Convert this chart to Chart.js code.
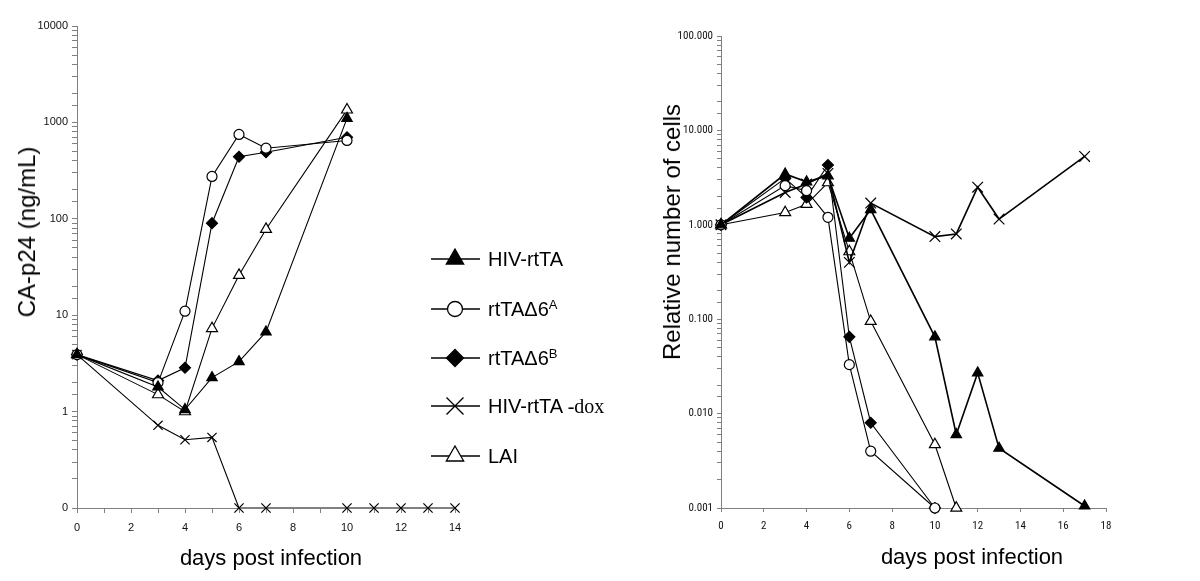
<!DOCTYPE html>
<html><head><meta charset="utf-8">
<script src="https://cdn.jsdelivr.net/npm/chart.js@4.4.1/dist/chart.umd.min.js"></script>
<style>
html,body{margin:0;padding:0;background:#fff;}
#wrap{position:relative;width:1200px;height:581px;overflow:hidden;font-family:"Liberation Sans",Arial,sans-serif;color:#000;background:#fff}
canvas{position:absolute;top:0}
.t{position:absolute;white-space:nowrap;line-height:1}
.lg{position:absolute;white-space:nowrap;line-height:1;font-size:20px;transform:translateY(-50%)}
.lg sup{font-size:13px;position:relative;top:-7px;vertical-align:baseline;line-height:0}
.serif{font-family:"Liberation Serif","Times New Roman",serif}
</style></head><body>
<div id="wrap">
<canvas id="c1" width="600" height="581" style="left:0"></canvas>
<canvas id="c2" width="600" height="581" style="left:600px"></canvas>
<div class="t" style="left:27px;top:232px;font-size:24px;transform:translate(-50%,-50%) rotate(-90deg)">CA-p24 (ng/mL)</div>
<div class="t" style="left:271px;top:558px;font-size:22px;transform:translate(-50%,-50%)">days post infection</div>
<div class="t" style="left:672px;top:232px;font-size:24px;transform:translate(-50%,-50%) rotate(-90deg)">Relative number of cells</div>
<div class="t" style="left:972px;top:557px;font-size:22px;transform:translate(-50%,-50%)">days post infection</div>
<div class="lg" style="left:488px;top:259px">HIV-rtTA</div>
<div class="lg" style="left:488px;top:309px">rtTAΔ6<sup>A</sup></div>
<div class="lg" style="left:488px;top:358px">rtTAΔ6<sup>B</sup></div>
<div class="lg" style="left:488px;top:406px">HIV-rtTA <span class="serif">-dox</span></div>
<div class="lg" style="left:488px;top:456px">LAI</div>
</div>
<script>
// ---------- data: left panel (CA-p24, ng/mL) ----------
const leftDays      = [0, 3, 4, 5, 6, 7, 10];
const leftDoxDays   = [0, 3, 4, 5, 6, 7, 10, 11, 12, 13, 14];
const leftHIV       = [3.9, 1.8, 1.05, 2.25, 3.3, 6.7, 1100];
const leftD6A       = [3.9, 2.0, 11, 275, 750, 540, 650];
const leftD6B       = [3.9, 2.1, 2.85, 90, 440, 490, 700];
const leftDox       = [3.9, 0.72, 0.51, 0.54, 0.1, 0.1, 0.1, 0.1, 0.1, 0.1, 0.1];
const leftLAI       = [3.9, 1.5, 1.0, 7.3, 26, 78, 1350];
const leftYTickVals = [0.1, 1, 10, 100, 1000, 10000];
const leftYTickText = ['0', '1', '10', '100', '1000', '10000'];

// ---------- data: right panel (relative number of cells) ----------
const rightHIVDays  = [0, 3, 4, 5, 6, 7, 10, 11, 12, 13, 17];
const rightHIV      = [1.0, 3.45, 2.85, 3.3, 0.72, 1.45, 0.065, 0.006, 0.027, 0.0043, 0.00105];
const rightD6Days   = [0, 3, 4, 5, 6, 7, 10];
const rightD6A      = [1.0, 2.6, 2.3, 1.2, 0.033, 0.004, 0.001];
const rightD6B      = [1.0, 3.1, 1.95, 4.3, 0.065, 0.008, 0.001];
const rightDoxDays  = [0, 3, 4, 5, 6, 7, 10, 11, 12, 13, 17];
const rightDox      = [1.0, 2.2, 2.7, 3.5, 0.4, 1.7, 0.75, 0.8, 2.5, 1.15, 5.3];
const rightLAIDays  = [0, 3, 4, 5, 6, 7, 10, 11];
const rightLAI      = [1.0, 1.35, 1.65, 2.8, 0.52, 0.095, 0.0047, 0.001];
const rightYTickVals = [0.001, 0.01, 0.1, 1, 10, 100];
const rightYTickText = ['0.001', '0.010', '0.100', '1.000', '10.000', '100.000'];

const seriesNames = ['HIV-rtTA', 'rtTAΔ6A', 'rtTAΔ6B', 'HIV-rtTA -dox', 'LAI'];

// ---------- styles ----------
const markerStyles = [
  {style: 'triangle', fill: '#000', r: 6},
  {style: 'circle',   fill: '#fff', r: 5},
  {style: 'rectRot',  fill: '#000', r: 5.5},
  {style: 'crossRot', fill: '#000', r: 6.5},
  {style: 'triangle', fill: '#fff', r: 6.3}
];
const AXIS = '#808080';

function zip(xs, ys) { return xs.map((x, i) => ({x: x, y: ys[i]})); }
function ds(i, xs, ys, lw, extra) {
  const m = markerStyles[i];
  return Object.assign({
    label: seriesNames[i],
    data: zip(xs, ys),
    borderColor: '#000',
    borderWidth: lw,
    pointStyle: m.style,
    pointRadius: m.r,
    pointHoverRadius: m.r,
    pointBackgroundColor: m.fill,
    pointBorderColor: '#000',
    pointBorderWidth: 1.2,
    tension: 0,
    fill: false,
    clip: false
  }, extra || {});
}
function logLabel(vals, texts) {
  return function (v) {
    for (let i = 0; i < vals.length; i++) {
      if (Math.abs(Math.log10(v) - Math.log10(vals[i])) < 1e-6) return texts[i];
    }
    return '';
  };
}

// legend symbols (left panel)
const legendY = [259, 309, 358, 406, 456];
const legendR = [10, 7.5, 8.5, 12, 10];
function drawMarker(ctx, style, x, y, r, fill) {
  ctx.beginPath();
  if (style === 'triangle') {
    const s = Math.sin(Math.PI / 3) * r;
    ctx.moveTo(x, y - r); ctx.lineTo(x + s, y + r / 2); ctx.lineTo(x - s, y + r / 2); ctx.closePath();
    ctx.fillStyle = fill; ctx.fill(); ctx.stroke();
  } else if (style === 'circle') {
    ctx.arc(x, y, r, 0, Math.PI * 2);
    ctx.fillStyle = fill; ctx.fill(); ctx.stroke();
  } else if (style === 'rectRot') {
    ctx.moveTo(x - r, y); ctx.lineTo(x, y - r); ctx.lineTo(x + r, y); ctx.lineTo(x, y + r); ctx.closePath();
    ctx.fillStyle = fill; ctx.fill(); ctx.stroke();
  } else {
    const d = r * Math.SQRT1_2;
    ctx.moveTo(x - d, y - d); ctx.lineTo(x + d, y + d);
    ctx.moveTo(x + d, y - d); ctx.lineTo(x - d, y + d);
    ctx.stroke();
  }
}
const legendPlugin = {
  id: 'customLegend',
  afterDraw(chart) {
    const ctx = chart.ctx;
    ctx.save();
    ctx.strokeStyle = '#000';
    ctx.lineWidth = 1.3;
    legendY.forEach((y, i) => {
      ctx.beginPath(); ctx.moveTo(431, y); ctx.lineTo(480, y); ctx.stroke();
      drawMarker(ctx, markerStyles[i].style, 455, y, legendR[i], markerStyles[i].fill);
    });
    ctx.restore();
  }
};

function axes(xMax, xStep, xEvery, yMin, yMax, yVals, yTexts, yWidth, xHeight, tickFont, tl) {
  return {
    x: {
      type: 'linear', min: 0, max: xMax,
      border: {color: AXIS, width: 1},
      grid: {display: true, drawOnChartArea: false, drawTicks: true, tickLength: tl, color: AXIS},
      ticks: {stepSize: xStep, autoSkip: false, maxRotation: 0, padding: 8, color: '#111', font: tickFont,
              callback: v => (v % xEvery === 0 ? String(v) : '')},
      afterFit: s => { s.height = xHeight; }
    },
    y: {
      type: 'logarithmic', min: yMin, max: yMax,
      border: {color: AXIS, width: 1},
      grid: {display: true, drawOnChartArea: false, drawTicks: true, tickLength: tl, color: AXIS},
      ticks: {autoSkip: false, padding: 4, color: '#111', font: tickFont, callback: logLabel(yVals, yTexts)},
      afterFit: s => { s.width = yWidth; }
    }
  };
}

const commonOpts = {
  responsive: false, animation: false, devicePixelRatio: 1,
  plugins: {legend: {display: false}, tooltip: {enabled: false}, title: {display: false}},
  events: []
};

new Chart(document.getElementById('c1'), {
  type: 'line',
  data: {datasets: [
    ds(0, leftDays, leftHIV, 1.1),
    ds(1, leftDays, leftD6A, 1.1),
    ds(2, leftDays, leftD6B, 1.1),
    ds(3, leftDoxDays, leftDox, 1.1, {segment: {
      borderColor: c => (c.p0.parsed.y <= 0.1 && c.p1.parsed.y <= 0.1 ? AXIS : '#000'),
      borderWidth: c => (c.p0.parsed.y <= 0.1 && c.p1.parsed.y <= 0.1 ? 2.2 : 1.1)
    }}),
    ds(4, leftDays, leftLAI, 1.1)
  ]},
  options: Object.assign({}, commonOpts, {
    layout: {padding: {left: 0, top: 26, right: 145, bottom: 0}, autoPadding: false},
    scales: axes(14, 1, 2, 0.1, 10000, leftYTickVals, leftYTickText, 77, 73,
                 {family: '"Liberation Sans", Arial, sans-serif', size: 11}, 5)
  }),
  plugins: [legendPlugin]
});

new Chart(document.getElementById('c2'), {
  type: 'line',
  data: {datasets: [
    ds(0, rightHIVDays, rightHIV, 1.6),
    ds(1, rightD6Days, rightD6A, 1.1),
    ds(2, rightD6Days, rightD6B, 1.1),
    ds(3, rightDoxDays, rightDox, 1.6, {pointRadius: 7.5, pointHoverRadius: 7.5}),
    ds(4, rightLAIDays, rightLAI, 1.1)
  ]},
  options: Object.assign({}, commonOpts, {
    layout: {padding: {left: 0, top: 36, right: 94, bottom: 0}, autoPadding: false},
    scales: axes(18, 2, 2, 0.001, 100, rightYTickVals, rightYTickText, 121, 73,
                 {family: '"Liberation Sans Narrow", "Arial Narrow", "Roboto Condensed", "Liberation Sans", sans-serif', size: 11}, 4)
  })
});
</script>
</body></html>
